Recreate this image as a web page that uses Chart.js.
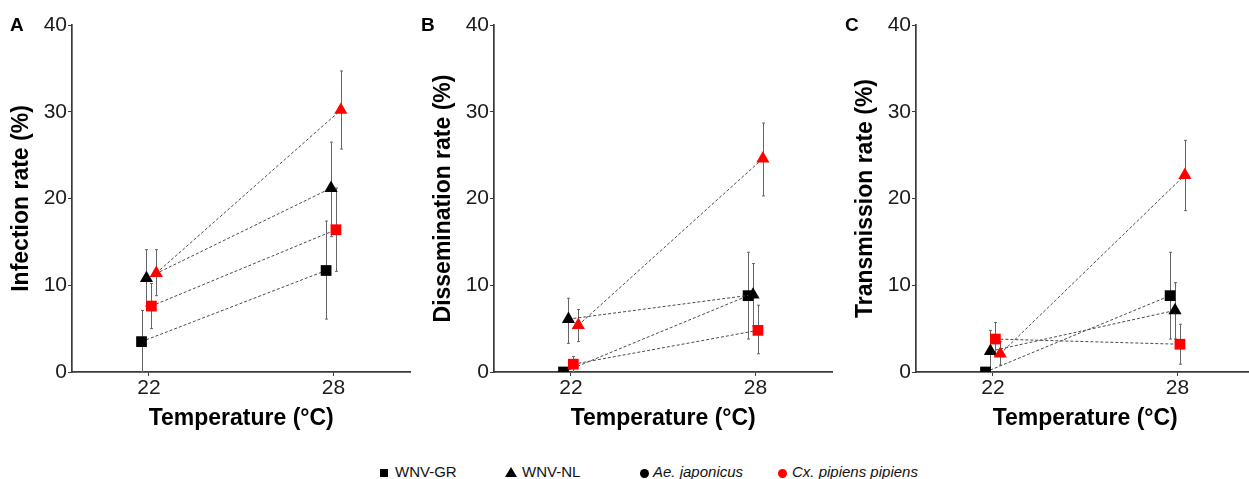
<!DOCTYPE html>
<html><head><meta charset="utf-8">
<script src="https://cdn.jsdelivr.net/npm/chart.js@4.4.1/dist/chart.umd.min.js"></script>
<style>
html,body{margin:0;padding:0;background:#fff;overflow:hidden;width:1249px;height:479px;position:relative;font-family:"Liberation Sans",Arial,sans-serif;}
.panel{position:absolute;top:0;width:418px;height:440px;}
.letter{position:absolute;top:15px;font-weight:bold;font-size:19px;line-height:1;color:#000;}
.leg{position:absolute;top:464px;font-size:15px;line-height:1;color:#111;white-space:nowrap;}
.it{font-style:italic;}
.sq{position:absolute;top:469px;width:8px;height:8px;background:#000;}
.tri{position:absolute;top:467px;width:0;height:0;border-left:6px solid transparent;border-right:6px solid transparent;border-bottom:10px solid #000;}
.dot{position:absolute;top:469px;width:9px;height:9px;border-radius:50%;}
</style>
</head><body>
<div class="panel" style="left:0"><canvas id="cA" width="418" height="440"></canvas></div>
<div class="panel" style="left:422px"><canvas id="cB" width="418" height="440"></canvas></div>
<div class="panel" style="left:844px"><canvas id="cC" width="418" height="440"></canvas></div>
<div class="letter" style="left:10px">A</div>
<div class="letter" style="left:421px">B</div>
<div class="letter" style="left:845px">C</div>

<div class="sq" style="left:380px"></div><div class="leg" style="left:395px">WNV-GR</div>
<div class="tri" style="left:505px"></div><div class="leg" style="left:522px">WNV-NL</div>
<div class="dot" style="left:640px;background:#000"></div><div class="leg it" style="left:653px">Ae. japonicus</div>
<div class="dot" style="left:778px;background:#f00"></div><div class="leg it" style="left:792px">Cx. pipiens pipiens</div>

<script>
// ---- data ----
const temperatures = [22, 28];
const xTickLabels = ['22', '28'];
const seriesNames = ['WNV-GR / Ae. japonicus', 'WNV-NL / Ae. japonicus', 'WNV-GR / Cx. pipiens pipiens', 'WNV-NL / Cx. pipiens pipiens'];

const infectionMean = [[3.5, 11.7], [10.8, 21.2], [7.6, 16.4], [11.4, 30.2]];
const infectionLow  = [[0, 6.1], [7.6, 15.6], [5.0, 11.6], [8.8, 25.7]];
const infectionHigh = [[7.1, 17.4], [14.1, 26.5], [10.2, 21.2], [14.1, 34.7]];

const disseminationMean = [[0, 8.8], [6.1, 8.9], [0.9, 4.8], [5.4, 24.6]];
const disseminationLow  = [[0, 3.8], [3.3, 5.3], [0, 2.1], [3.5, 20.3]];
const disseminationHigh = [[0, 13.8], [8.5, 12.5], [1.8, 7.7], [7.2, 28.7]];

const transmissionMean = [[0, 8.8], [2.4, 7.1], [3.8, 3.2], [2.1, 22.7]];
const transmissionLow  = [[0, 3.8], [0, 3.8], [1.9, 0.9], [0.8, 18.6]];
const transmissionHigh = [[0, 13.8], [4.8, 10.3], [5.7, 5.5], [3.5, 26.7]];

// ---- styles ----
const markerShapes = ['rect', 'triangle', 'rect', 'triangle'];
const markerColors = ['#000000', '#000000', '#ff0000', '#ff0000'];
const dodge = [-0.24, -0.08, 0.08, 0.24];
const FONT = '"Liberation Sans", Arial, sans-serif';

const errorBarPlugin = {
  id: 'errorBars',
  beforeDatasetsDraw(chart) {
    const ctx = chart.ctx;
    const ys = chart.scales.y;
    ctx.save();
    ctx.strokeStyle = '#666666';
    ctx.lineWidth = 1;
    chart.data.datasets.forEach((ds, i) => {
      const meta = chart.getDatasetMeta(i);
      meta.data.forEach((pt, j) => {
        const x = Math.round(pt.x) + 0.5;
        const y1 = ys.getPixelForValue(ds.errLow[j]);
        const y2 = ys.getPixelForValue(ds.errHigh[j]);
        if (Math.abs(y1 - y2) < 0.5) return;
        ctx.beginPath();
        ctx.moveTo(x, y1); ctx.lineTo(x, y2);
        ctx.moveTo(x - 1.5, y1); ctx.lineTo(x + 1.5, y1);
        ctx.moveTo(x - 1.5, y2); ctx.lineTo(x + 1.5, y2);
        ctx.stroke();
      });
    });
    ctx.restore();
  }
};

function makePanel(id, yTitle, mean, low, high) {
  const datasets = mean.map((vals, s) => ({
    label: seriesNames[s],
    data: temperatures.map((t, j) => ({ x: t + dodge[s], y: vals[j] })),
    errLow: low[s],
    errHigh: high[s],
    showLine: true,
    borderColor: '#4a4a4a',
    borderWidth: 1,
    borderDash: [3, 2],
    pointStyle: markerShapes[s],
    pointRadius: 7.6,
    pointHoverRadius: 7.6,
    pointBackgroundColor: markerColors[s],
    pointBorderColor: markerColors[s],
    pointBorderWidth: 0,
    clip: { left: false, top: false, right: false, bottom: 0 },
    order: 3 - s
  }));
  new Chart(document.getElementById(id), {
    type: 'scatter',
    data: { datasets },
    plugins: [errorBarPlugin],
    options: {
      responsive: false,
      animation: false,
      events: [],
      layout: { padding: { top: 25, right: 0, bottom: 0, left: 0 } },
      plugins: { legend: { display: false }, tooltip: { enabled: false } },
      scales: {
        x: {
          type: 'linear', min: 19.5, max: 30.5,
          afterFit: s => { s.height = 68; },
          afterBuildTicks: s => { s.ticks = temperatures.map(v => ({ value: v })); },
          grid: { display: true, drawOnChartArea: false, drawTicks: true, tickLength: 4, tickColor: '#3a3a3a', tickWidth: 1 },
          border: { display: true, color: '#3a3a3a', width: 1.7 },
          ticks: {
            autoSkip: false, padding: 0, color: '#1a1a1a',
            font: { family: FONT, size: 21 },
            callback: (v) => xTickLabels[temperatures.indexOf(v)]
          },
          title: { display: true, text: 'Temperature (°C)', color: '#000',
            font: { family: FONT, size: 23, weight: 'bold' }, padding: { top: 0, bottom: 8 } }
        },
        y: {
          type: 'linear', min: 0, max: 40,
          afterFit: s => { s.width = 72; },
          grid: { display: true, drawOnChartArea: false, drawTicks: true, tickLength: 4, tickColor: '#3a3a3a', tickWidth: 1 },
          border: { display: true, color: '#3a3a3a', width: 1.7 },
          ticks: { stepSize: 10, padding: 1, color: '#1a1a1a', font: { family: FONT, size: 21 } },
          title: { display: true, text: yTitle, color: '#000',
            font: { family: FONT, size: 23, weight: 'bold' }, padding: { top: 8, bottom: 0 } }
        }
      }
    }
  });
}

makePanel('cA', 'Infection rate (%)', infectionMean, infectionLow, infectionHigh);
makePanel('cB', 'Dissemination rate (%)', disseminationMean, disseminationLow, disseminationHigh);
makePanel('cC', 'Transmission rate (%)', transmissionMean, transmissionLow, transmissionHigh);
</script>
</body></html>
